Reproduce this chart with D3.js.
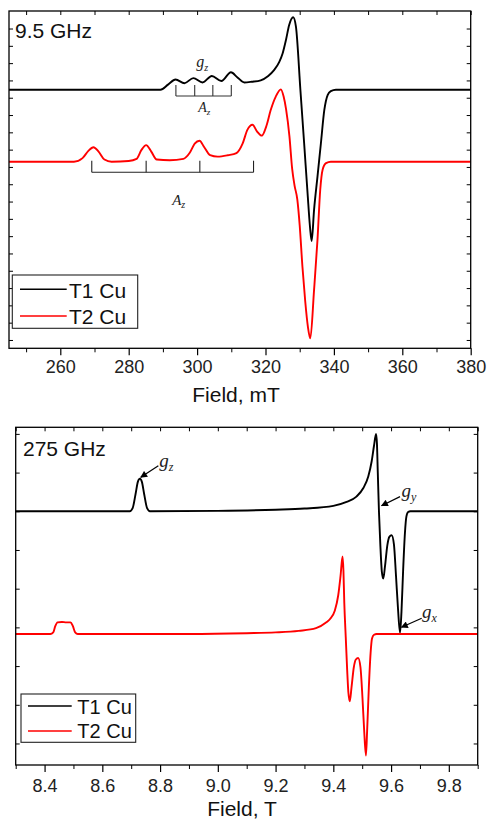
<!DOCTYPE html>
<html><head><meta charset="utf-8">
<script src="https://cdn.jsdelivr.net/npm/d3@7/dist/d3.min.js"></script>
<style>body{margin:0;background:#fff}svg{display:block}</style>
</head><body><svg id="c" width="487" height="819"></svg>
<script>
// ---------- DATA ----------
const seriesNames = ["T1 Cu", "T2 Cu"];
const seriesColors = ["#000000", "#ff0000"];

// 9.5 GHz (field in mT, normalised signal)
const xbandT1 = [[245,0],[285,0],[289.3,0],[291.5,0.07],[293.7,0.14],[296.3,0.09],[298.9,0.16],[301.6,0.10],[304.3,0.19],[307.1,0.12],[309.9,0.24],[311.8,0.17],[313.8,0.10],[316.0,0.11],[318.6,0.13],[320.8,0.19],[322.5,0.27],[324.0,0.38],[325.0,0.50],[326.0,0.69],[326.9,0.89],[328.1,1.0],[328.9,0.87],[330.2,0.0],[331.3,-0.74],[332.3,-1.43],[333.0,-1.89],[333.5,-2.09],[334.2,-1.66],[335.2,-1.2],[336.2,-0.74],[337.2,-0.28],[338.2,-0.07],[339.1,-0.02],[340.6,0],[380,0]];
const xbandT2 = [[245,0],[264,0],[266.5,0.05],[268.2,0.15],[269.7,0.20],[271.2,0.14],[272.9,0.03],[275,0],[280,0.01],[282.3,0.04],[283.7,0.16],[285.1,0.23],[286.6,0.14],[288.2,0.03],[292,0.02],[296,0.04],[297.8,0.12],[299.3,0.25],[300.7,0.29],[302.1,0.20],[303.8,0.09],[306,0.07],[309,0.09],[311.5,0.12],[313.3,0.25],[314.7,0.44],[316.2,0.51],[317.5,0.42],[318.9,0.36],[320.3,0.50],[321.5,0.71],[323,0.90],[324.5,1.0],[325.3,0.9],[326.0,0.73],[327.0,0.35],[327.8,-0.1],[328.5,-0.33],[329.3,-0.52],[330.0,-0.88],[330.8,-1.45],[331.6,-1.92],[332.4,-2.28],[333.1,-2.44],[334.2,-1.77],[335.2,-1.08],[336.0,-0.39],[336.7,-0.11],[337.7,-0.02],[339.1,0],[380,0]];
const xbandOffsets = [0, -0.995];
const xbandTicks = [260, 280, 300, 320, 340, 360, 380];
const xbandMinorTicks = [250, 270, 290, 310, 330, 350, 370];
const xbandBracketT1 = [293.8, 299.3, 304.6, 310.0];
const xbandBracketT2 = [269.2, 285.1, 300.8, 316.5];

// 275 GHz (field in T, normalised signal)
const hfT1 = [[8.3,0],[8.695,0],[8.705,0.04],[8.715,0.22],[8.723,0.38],[8.730,0.42],[8.737,0.38],[8.745,0.22],[8.755,0.04],[8.765,0],[9.0,0.005],[9.2,0.02],[9.3,0.035],[9.4,0.07],[9.446,0.12],[9.48,0.19],[9.504,0.3],[9.521,0.45],[9.533,0.65],[9.541,0.85],[9.548,1.0],[9.551,0.88],[9.554,0.5],[9.558,0.0],[9.563,-0.45],[9.568,-0.78],[9.573,-0.87],[9.579,-0.71],[9.587,-0.44],[9.594,-0.33],[9.602,-0.31],[9.610,-0.43],[9.617,-0.83],[9.624,-1.26],[9.631,-1.57],[9.636,-1.3],[9.642,-0.74],[9.648,-0.28],[9.653,-0.07],[9.659,-0.01],[9.667,0],[9.9,0]];
const hfT2 = [[8.3,0],[8.42,0],[8.43,0.02],[8.437,0.10],[8.445,0.15],[8.46,0.155],[8.475,0.15],[8.49,0.15],[8.498,0.10],[8.506,0.02],[8.515,0],[8.9,0],[9.1,0.01],[9.2,0.02],[9.28,0.04],[9.34,0.075],[9.376,0.15],[9.388,0.19],[9.405,0.3],[9.417,0.5],[9.425,0.75],[9.432,1.0],[9.435,0.82],[9.438,0.40],[9.443,-0.04],[9.448,-0.47],[9.452,-0.75],[9.457,-0.87],[9.463,-0.69],[9.471,-0.43],[9.478,-0.33],[9.486,-0.31],[9.494,-0.43],[9.501,-0.83],[9.507,-1.26],[9.513,-1.57],[9.517,-1.26],[9.523,-0.69],[9.529,-0.25],[9.534,-0.06],[9.541,-0.01],[9.55,0],[9.9,0]];
const hfOffsets = [0, -1.585];
const hfTicks = [8.4, 8.6, 8.8, 9.0, 9.2, 9.4, 9.6, 9.8];
const hfMinorTicks = [8.3, 8.5, 8.7, 8.9, 9.1, 9.3, 9.5, 9.7, 9.9];
// arrows: [label field, label value, tail field, tail value, tip field, tip value, sub]
const hfArrowLabels = [["z", 8.797, 0.576, 8.794, 0.589, 8.733, 0.439],
                       ["y", 9.636, 0.189, 9.631, 0.189, 9.567, 0.072],
                       ["x", 9.707, -1.375, 9.706, -1.382, 9.636, -1.499]];

// ---------- DRAWING ----------
const FONT = '"Liberation Sans", Arial, sans-serif';
const SERIF = '"Liberation Serif", "Times New Roman", serif';
const svg = d3.select("#c");

const defs = svg.append("defs");
defs.append("marker").attr("id","ah").attr("viewBox","0 0 10 10").attr("refX",9).attr("refY",5)
  .attr("markerUnits","userSpaceOnUse").attr("markerWidth",9).attr("markerHeight",7).attr("orient","auto")
  .append("path").attr("d","M0,0L10,5L0,10z").attr("fill","#000");

function panel(o) {
  const g = svg.append("g");
  const [xl, xr] = o.x.range();
  const [yb, yt] = o.y.range();
  // curves
  o.series.forEach((data, i) => {
    const off = o.offsets[i];
    const line = d3.line().x(d => o.x(d[0])).y(d => o.y(d[1] + off)).curve(d3.curveMonotoneX);
    g.append("path").attr("d", line(data)).attr("fill","none")
      .attr("stroke", seriesColors[i]).attr("stroke-width", 1.9).attr("stroke-linejoin","round");
  });
  // frame
  g.append("rect").attr("x", xl).attr("y", yt).attr("width", xr - xl).attr("height", yb - yt)
    .attr("fill","none").attr("stroke","#000").attr("stroke-width",1.3);
  // bottom axis
  const bx = g.append("g").attr("transform",`translate(0,${yb})`)
    .call(d3.axisBottom(o.x).tickValues(o.ticks).tickFormat(o.fmt).tickSize(7).tickSizeOuter(0).tickPadding(o.pad));
  bx.select(".domain").remove();
  bx.selectAll("line").attr("stroke-width",1.2);
  bx.selectAll("text").attr("font-family",FONT).attr("font-size",18).attr("fill","#222");
  const bm = g.append("g").attr("transform",`translate(0,${yb})`)
    .call(d3.axisBottom(o.x).tickValues(o.minor).tickFormat("").tickSize(4).tickSizeOuter(0));
  bm.select(".domain").remove();
  // top axis inward
  const tx = g.append("g").attr("transform",`translate(0,${yt})`)
    .call(d3.axisTop(o.x).tickValues(o.ticks.concat(o.minor)).tickFormat("").tickSize(-4).tickSizeOuter(0));
  tx.select(".domain").remove();
  // left/right inward ticks
  const lx = g.append("g").attr("transform",`translate(${xl},0)`)
    .call(d3.axisLeft(o.y).tickValues(o.yticks).tickFormat("").tickSize(-4).tickSizeOuter(0));
  lx.select(".domain").remove();
  const rx = g.append("g").attr("transform",`translate(${xr},0)`)
    .call(d3.axisRight(o.y).tickValues(o.yticks).tickFormat("").tickSize(-4).tickSizeOuter(0));
  rx.select(".domain").remove();
  // axis title
  g.append("text").attr("x", o.titleX).attr("y", o.titleY).attr("text-anchor","middle")
    .attr("font-family",FONT).attr("font-size",21).attr("fill","#111").text(o.title);
  // freq label
  g.append("text").attr("x", o.freqX).attr("y", o.freqY).attr("font-family",FONT)
    .attr("font-size",21).attr("fill","#111").text(o.freq);
  // legend
  const L = o.legend;
  g.append("rect").attr("x",L.x).attr("y",L.y).attr("width",L.w).attr("height",L.h)
    .attr("fill","#fff").attr("stroke","#222").attr("stroke-width",1.1);
  seriesNames.forEach((n, i) => {
    const ly = L.lineY[i];
    g.append("line").attr("x1",L.lx1).attr("x2",L.lx2).attr("y1",ly).attr("y2",ly)
      .attr("stroke",seriesColors[i]).attr("stroke-width",1.6);
    g.append("text").attr("x",L.tx).attr("y",L.textY[i]).attr("font-family",FONT)
      .attr("font-size",L.fs).attr("fill","#111").text(n);
  });
  return g;
}

function italicLabel(g, x, y, main, sub, fs, sfs) {
  const t = g.append("text").attr("x", x).attr("y", y).attr("font-family", SERIF)
    .attr("font-style","italic").attr("font-size", fs).attr("fill","#222");
  t.append("tspan").text(main);
  t.append("tspan").attr("font-size", sfs).attr("dy", fs * 0.22).text(sub);
}

// ---- top panel ----
const x1 = d3.scaleLinear().domain([245, 380]).range([9, 470.7]);
const y1 = d3.scaleLinear().domain([-3.572, 1.087]).range([348.3, 11]);
const g1 = panel({
  x: x1, y: y1, series: [xbandT1, xbandT2], offsets: xbandOffsets,
  ticks: xbandTicks, minor: xbandMinorTicks, fmt: d3.format("d"), pad: 5,
  yticks: d3.range(-3.457, 1.08, 0.239),
  title: "Field, mT", titleX: 236, titleY: 402,
  freq: "9.5 GHz", freqX: 15, freqY: 37.5,
  legend: {x:12.3, y:275, w:125.4, h:53.3, lx1:20, lx2:66.7, lineY:[289.3,316], tx:69, textY:[297.5,323.5], fs:21}
});
// brackets
function bracket(g, xs, off, base, top, stroke) {
  g.append("line").attr("x1", x1(xs[0])).attr("x2", x1(xs[xs.length-1]))
    .attr("y1", y1(base + off)).attr("y2", y1(base + off)).attr("stroke", stroke).attr("stroke-width",1.1);
  xs.forEach(v => g.append("line").attr("x1", x1(v)).attr("x2", x1(v))
    .attr("y1", y1(base + off)).attr("y2", y1(top + off)).attr("stroke", stroke).attr("stroke-width",1.1));
}
bracket(g1, xbandBracketT1, xbandOffsets[0], -0.087, 0.065, "#333");
bracket(g1, xbandBracketT2, xbandOffsets[1], -0.146, 0.014, "#222");
italicLabel(g1, x1(299.75), y1(0.307), "g", "z", 16, 10);
italicLabel(g1, x1(300.3), y1(-0.304), "A", "z", 14, 9);
italicLabel(g1, x1(292.7), y1(-0.598 + xbandOffsets[1]), "A", "z", 15, 10);

// ---- bottom panel ----
const x2 = d3.scaleLinear().domain([8.3, 9.9]).range([15.7, 477.7]);
const y2 = d3.scaleLinear().domain([-3.278, 1.085]).range([765, 427.3]);
const g2 = panel({
  x: x2, y: y2, series: [hfT1, hfT2], offsets: hfOffsets,
  ticks: hfTicks, minor: hfMinorTicks, fmt: d3.format(".1f"), pad: 7,
  yticks: d3.range(-3, 1.01, 0.5),
  title: "Field, T", titleX: 242, titleY: 816,
  freq: "275 GHz", freqX: 23, freqY: 455.7,
  legend: {x:21, y:694, w:114.7, h:48.3, lx1:28, lx2:71.7, lineY:[706,731], tx:77.3, textY:[714.3,737.8], fs:20}
});
hfArrowLabels.forEach(a => {
  g2.append("line").attr("x1", x2(a[3])).attr("y1", y2(a[4])).attr("x2", x2(a[5])).attr("y2", y2(a[6]))
    .attr("stroke","#000").attr("stroke-width",1.2).attr("marker-end","url(#ah)");
  italicLabel(g2, x2(a[1]), y2(a[2]), "g", a[0], 19, 12);
});
</script></body></html>
